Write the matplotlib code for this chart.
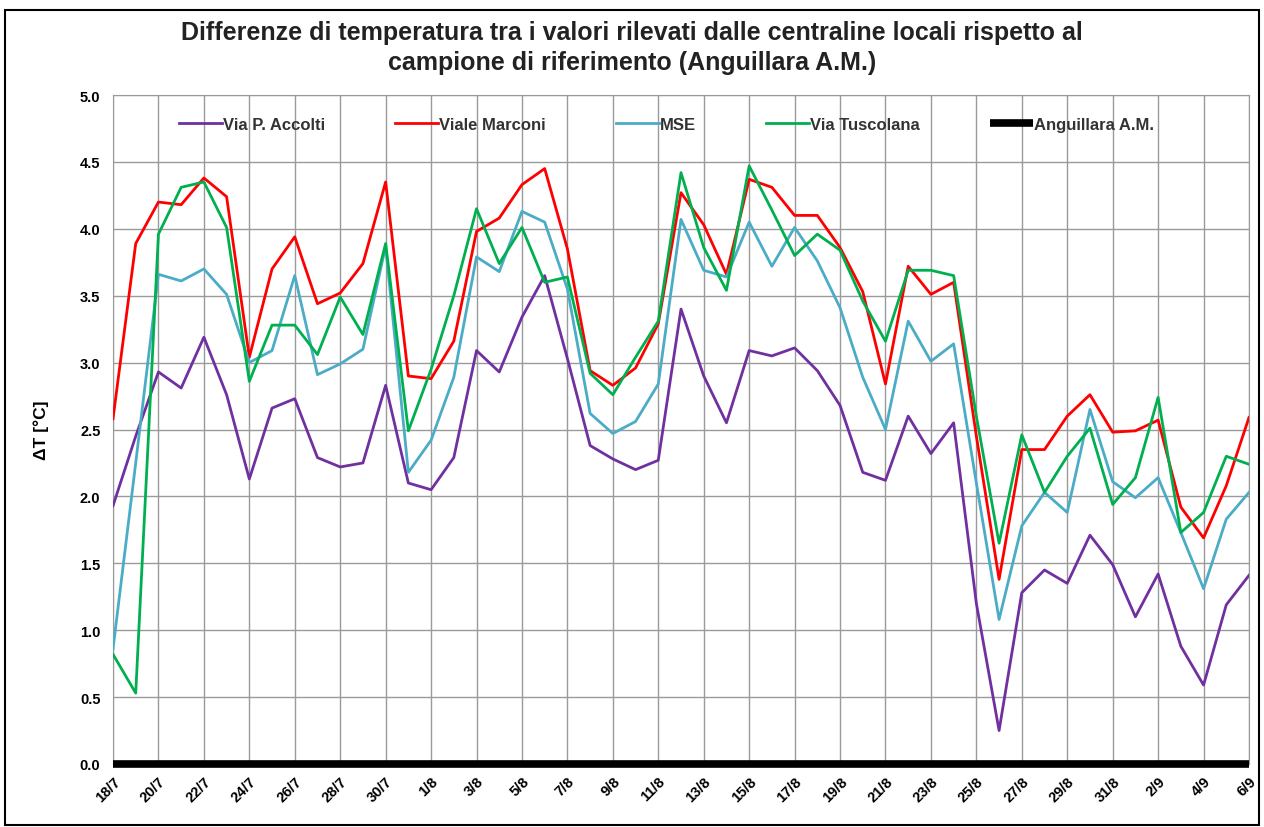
import numpy as np
import matplotlib
matplotlib.use("Agg")
import matplotlib.pyplot as plt

plt.rcParams['font.family'] = ['Liberation Sans', 'DejaVu Sans']

# dates 18/7 -> 6/9, one value per day
dates = (["%d/7" % d for d in range(18, 32)] + ["%d/8" % d for d in range(1, 32)]
         + ["%d/9" % d for d in range(1, 7)])

accolti = [1.93, 2.45, 2.93, 2.81, 3.19, 2.76, 2.13, 2.66, 2.73, 2.29,
           2.22, 2.25, 2.83, 2.10, 2.05, 2.29, 3.09, 2.93, 3.34, 3.65,
           3.03, 2.38, 2.28, 2.20, 2.27, 3.40, 2.90, 2.55, 3.09, 3.05,
           3.11, 2.94, 2.68, 2.18, 2.12, 2.60, 2.32, 2.55, 1.20, 0.25,
           1.28, 1.45, 1.35, 1.71, 1.49, 1.10, 1.42, 0.88, 0.59, 1.19, 1.41]
marconi = [2.58, 3.89, 4.20, 4.18, 4.38, 4.24, 3.04, 3.70, 3.94, 3.44,
           3.52, 3.74, 4.35, 2.90, 2.88, 3.16, 3.98, 4.08, 4.33, 4.45,
           3.85, 2.94, 2.83, 2.96, 3.29, 4.27, 4.03, 3.66, 4.37, 4.31,
           4.10, 4.10, 3.86, 3.53, 2.84, 3.72, 3.51, 3.60, 2.45, 1.38,
           2.35, 2.35, 2.60, 2.76, 2.48, 2.49, 2.57, 1.92, 1.69, 2.08, 2.59]
mse = [0.86, 2.25, 3.66, 3.61, 3.70, 3.51, 3.00, 3.09, 3.65, 2.91,
       2.99, 3.10, 3.87, 2.18, 2.42, 2.89, 3.79, 3.68, 4.13, 4.05,
       3.55, 2.62, 2.47, 2.56, 2.84, 4.07, 3.69, 3.64, 4.05, 3.72,
       4.01, 3.76, 3.41, 2.89, 2.50, 3.31, 3.01, 3.14, 2.10, 1.08,
       1.78, 2.03, 1.88, 2.65, 2.11, 1.99, 2.14, 1.73, 1.31, 1.83, 2.03]
tuscolana = [0.82, 0.53, 3.96, 4.31, 4.35, 4.01, 2.86, 3.28, 3.28, 3.06,
             3.49, 3.21, 3.89, 2.49, 2.95, 3.50, 4.15, 3.74, 4.01, 3.60,
             3.64, 2.92, 2.76, 3.04, 3.31, 4.42, 3.86, 3.54, 4.47, 4.14,
             3.80, 3.96, 3.84, 3.46, 3.16, 3.69, 3.69, 3.65, 2.60, 1.65,
             2.46, 2.03, 2.30, 2.51, 1.94, 2.14, 2.74, 1.73, 1.88, 2.30, 2.24]
anguillara = [0.0] * len(dates)

x = np.arange(len(dates))

fig = plt.figure(figsize=(12.64, 8.28), dpi=100)
ax = fig.add_axes([113 / 1264, 1 - 765 / 828, (1249 - 113) / 1264, (765 - 96) / 828])

lw = 2.0
ax.plot(x, accolti, color='#7030A0', lw=lw, label='Via P. Accolti', zorder=3)
ax.plot(x, marconi, color='#FF0000', lw=lw, label='Viale Marconi', zorder=3)
ax.plot(x, mse, color='#4BACC6', lw=lw, label='MSE', zorder=3)
ax.plot(x, tuscolana, color='#00B050', lw=lw, label='Via Tuscolana', zorder=3)
ax.plot(x, anguillara, color='black', lw=5.5, label='Anguillara A.M.', zorder=4,
        clip_on=False, solid_capstyle='butt')

ax.set_xlim(0, len(dates) - 1)
ax.set_ylim(0, 5)
ax.set_xticks(x[::2])
ax.set_xticklabels(dates[::2], rotation=45, ha='right', rotation_mode='anchor',
                   fontsize=10.5, fontweight='bold')
ax.set_yticks(np.arange(0, 5.01, 0.5))
ax.set_yticklabels(["%.1f" % v for v in np.arange(0, 5.01, 0.5)],
                   fontsize=10.5, fontweight='bold')
ax.tick_params(length=0, pad=9)
ax.tick_params(axis='x', pad=7)
ax.grid(True, color='#9a9a9a', lw=1.0)
for s in ax.spines.values():
    s.set_color('#9a9a9a')

ax.set_ylabel('ΔT [°C]', fontsize=12.5, fontweight='bold', labelpad=22)

leg = ax.legend(loc='upper center', ncol=5, frameon=False, fontsize=12,
                bbox_to_anchor=(0.487, 0.99), handlelength=2.6, handletextpad=0.05,
                columnspacing=4.2)
for t in leg.get_texts():
    t.set_fontweight('bold')
    t.set_color('#333333')

fig.text(0.5, 1 - 33 / 828, "Differenze di temperatura tra i valori rilevati dalle centraline locali rispetto al",
         ha='center', va='center', fontsize=18, fontweight='bold', color='#222222')
fig.text(0.5, 1 - 63 / 828, "campione di riferimento (Anguillara A.M.)",
         ha='center', va='center', fontsize=18, fontweight='bold', color='#222222')

# outer frame around the picture
fig.patches.append(plt.Rectangle((0.004, 0.003), 0.992, 0.984, transform=fig.transFigure,
                                 fill=False, ec='black', lw=1.5))

fig.savefig('out.png', dpi=100)
